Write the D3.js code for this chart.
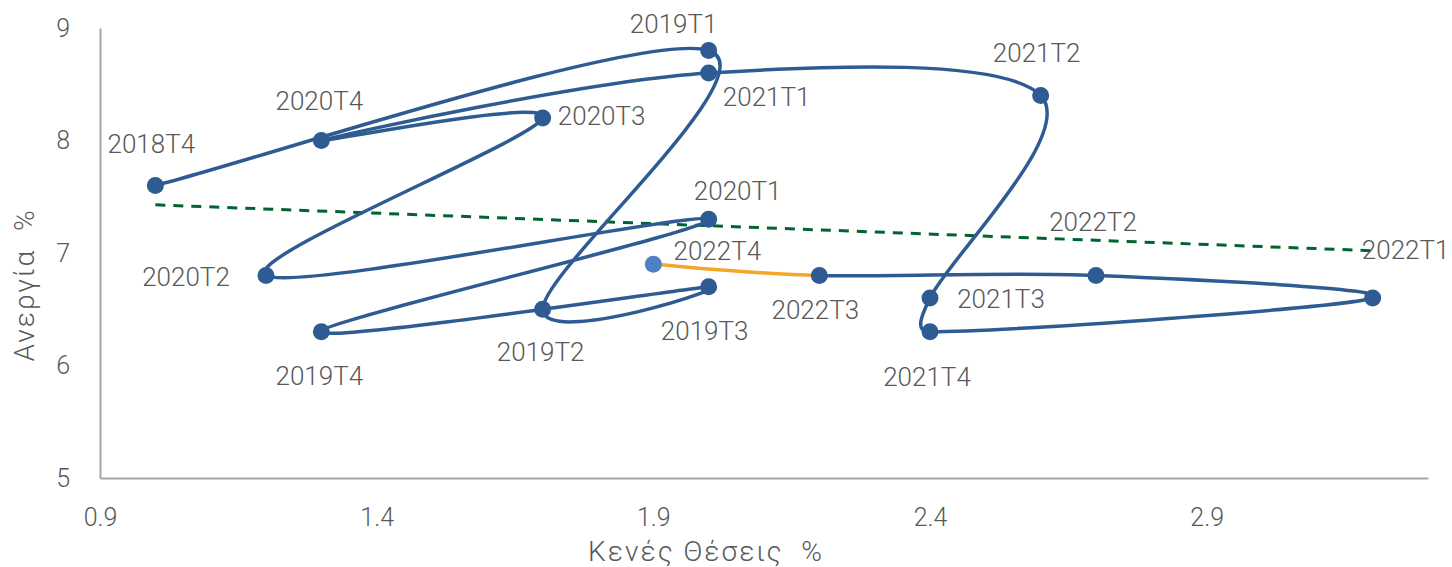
<!DOCTYPE html>
<html>
<head>
<meta charset="utf-8">
<script src="https://cdn.jsdelivr.net/npm/d3@7"></script>
<style>
  html, body { margin: 0; padding: 0; background: #fff; }
  svg { display: block; }
  text { font-family: Roboto, "Liberation Sans", sans-serif; font-weight: 300; fill: #595959; white-space: pre; }
</style>
</head>
<body>
<svg id="chart" width="1452" height="567"></svg>
<script>
'use strict';

// quarters, in path order
const QUARTERS = ['2018T4', '2019T1', '2019T2', '2019T3', '2019T4', '2020T1', '2020T2', '2020T3',
    '2020T4', '2021T1', '2021T2', '2021T3', '2021T4', '2022T1', '2022T2', '2022T3', '2022T4'];
// vacancy rate %
const VACANCIES = [1.0, 2.0, 1.7, 2.0, 1.3, 2.0, 1.2, 1.7, 1.3, 2.0, 2.6, 2.4, 2.4, 3.2, 2.7, 2.2, 1.9];
// unemployment rate %
const UNEMPLOYMENT = [7.6, 8.8, 6.5, 6.7, 6.3, 7.3, 6.8, 8.2, 8.0, 8.6, 8.4, 6.6, 6.3, 6.6, 6.8, 6.8, 6.9];

const X_TICKS = [0.9, 1.4, 1.9, 2.4, 2.9];
const Y_TICKS = [5, 6, 7, 8, 9];

const svg = d3.select('#chart');

const x = d3.scaleLinear().domain([0.9, 3.3]).range([100, 1428]);
const y = d3.scaleLinear().domain([5, 9]).range([478, 28]);

const pts = QUARTERS.map((q, i) => ({ q, px: x(VACANCIES[i]), py: y(UNEMPLOYMENT[i]) }));

// axes
const xAxis = svg.append('g').attr('transform', `translate(0,${y(5)})`)
    .call(d3.axisBottom(x).tickValues(X_TICKS).tickSize(0).tickSizeOuter(0).tickPadding(30).tickFormat(d3.format('.1f')));
const yAxis = svg.append('g').attr('transform', `translate(${x(0.9)},0)`)
    .call(d3.axisLeft(y).tickValues(Y_TICKS).tickSize(0).tickSizeOuter(0).tickPadding(30).tickFormat(d3.format('d')));

[xAxis, yAxis].forEach((g) => {
    g.select('.domain').attr('stroke', '#a6a6a6').attr('stroke-width', 2);
    g.selectAll('text').attr('font-size', 25).style('font-family', 'Roboto, sans-serif').attr('fill', '#595959');
});

// axis titles
svg.append('text').attr('x', 706).attr('y', 561).attr('text-anchor', 'middle')
    .attr('font-size', 28).attr('letter-spacing', 2).text('Κενές Θέσεις  %');
svg.append('text').attr('transform', 'translate(24,285) rotate(-90)').attr('text-anchor', 'middle').attr('dominant-baseline', 'central')
    .attr('font-size', 28).attr('letter-spacing', 2).text('Ανεργία  %');

// linear trendline over all points
const mx = d3.mean(VACANCIES), my = d3.mean(UNEMPLOYMENT);
const slope = d3.sum(VACANCIES, (v, i) => (v - mx) * (UNEMPLOYMENT[i] - my)) / d3.sum(VACANCIES, (v) => (v - mx) ** 2);
const trend = (v) => my + slope * (v - mx);
const [x0, x1] = d3.extent(VACANCIES);
svg.append('line')
    .attr('x1', x(x0)).attr('y1', y(trend(x0)))
    .attr('x2', x(x1)).attr('y2', y(trend(x1)))
    .attr('stroke', '#00642e').attr('stroke-width', 3).attr('stroke-dasharray', '10 8');

// one smoothed segment: catmull-rom arms of 1/6, clamped to half the segment (excel-like smoothing)
const segment = (i) => {
    const p0 = pts[Math.max(i - 1, 0)], p1 = pts[i], p2 = pts[i + 1], p3 = pts[Math.min(i + 2, pts.length - 1)];
    const d12 = Math.hypot(p2.px - p1.px, p2.py - p1.py);
    const arm = (ax, ay) => {
        const len = Math.hypot(ax, ay) / 6;
        const k = len > d12 / 2 ? (d12 / 2) / len : 1;
        return [ax / 6 * k, ay / 6 * k];
    };
    const [a1x, a1y] = arm(p2.px - p0.px, p2.py - p0.py);
    const [a2x, a2y] = arm(p3.px - p1.px, p3.py - p1.py);
    const p = d3.path();
    p.moveTo(p1.px, p1.py);
    p.bezierCurveTo(p1.px + a1x, p1.py + a1y, p2.px - a2x, p2.py - a2y, p2.px, p2.py);
    return p.toString();
};

const last = pts.length - 1;
svg.append('g').selectAll('path').data(d3.range(last))
    .join('path')
    .attr('d', (i) => segment(i))
    .attr('fill', 'none')
    .attr('stroke', (i) => (i === last - 1 ? '#f2a62a' : '#2e5b92'))
    .attr('stroke-width', 3.5)
    .attr('stroke-linecap', 'round');

svg.append('g').selectAll('circle').data(pts)
    .join('circle')
    .attr('cx', (d) => d.px).attr('cy', (d) => d.py).attr('r', 8.5)
    .attr('fill', (d, i) => (i === last ? '#4f81c2' : '#2e5b92'));

// label offsets [dx, dy]
const LABEL_OFFSETS = {
    '2018T4': [-4, -42], '2019T1': [-35, -27], '2019T2': [-2, 43], '2019T3': [-4, 44],
    '2019T4': [-2, 44], '2020T1': [29, -28], '2020T2': [-80, 1], '2020T3': [59, -2],
    '2020T4': [-2, -40], '2021T1': [58, 24], '2021T2': [-4, -43], '2021T3': [71, 1],
    '2021T4': [-3, 45], '2022T1': [33, -48], '2022T2': [-3, -54], '2022T3': [-4, 34],
    '2022T4': [64, -13],
};

svg.append('g').selectAll('text').data(pts)
    .join('text')
    .attr('x', (d) => d.px + LABEL_OFFSETS[d.q][0])
    .attr('y', (d) => d.py + LABEL_OFFSETS[d.q][1])
    .attr('text-anchor', 'middle')
    .attr('dominant-baseline', 'central')
    .attr('font-size', 26)
    .text((d) => d.q);
</script>
</body>
</html>
